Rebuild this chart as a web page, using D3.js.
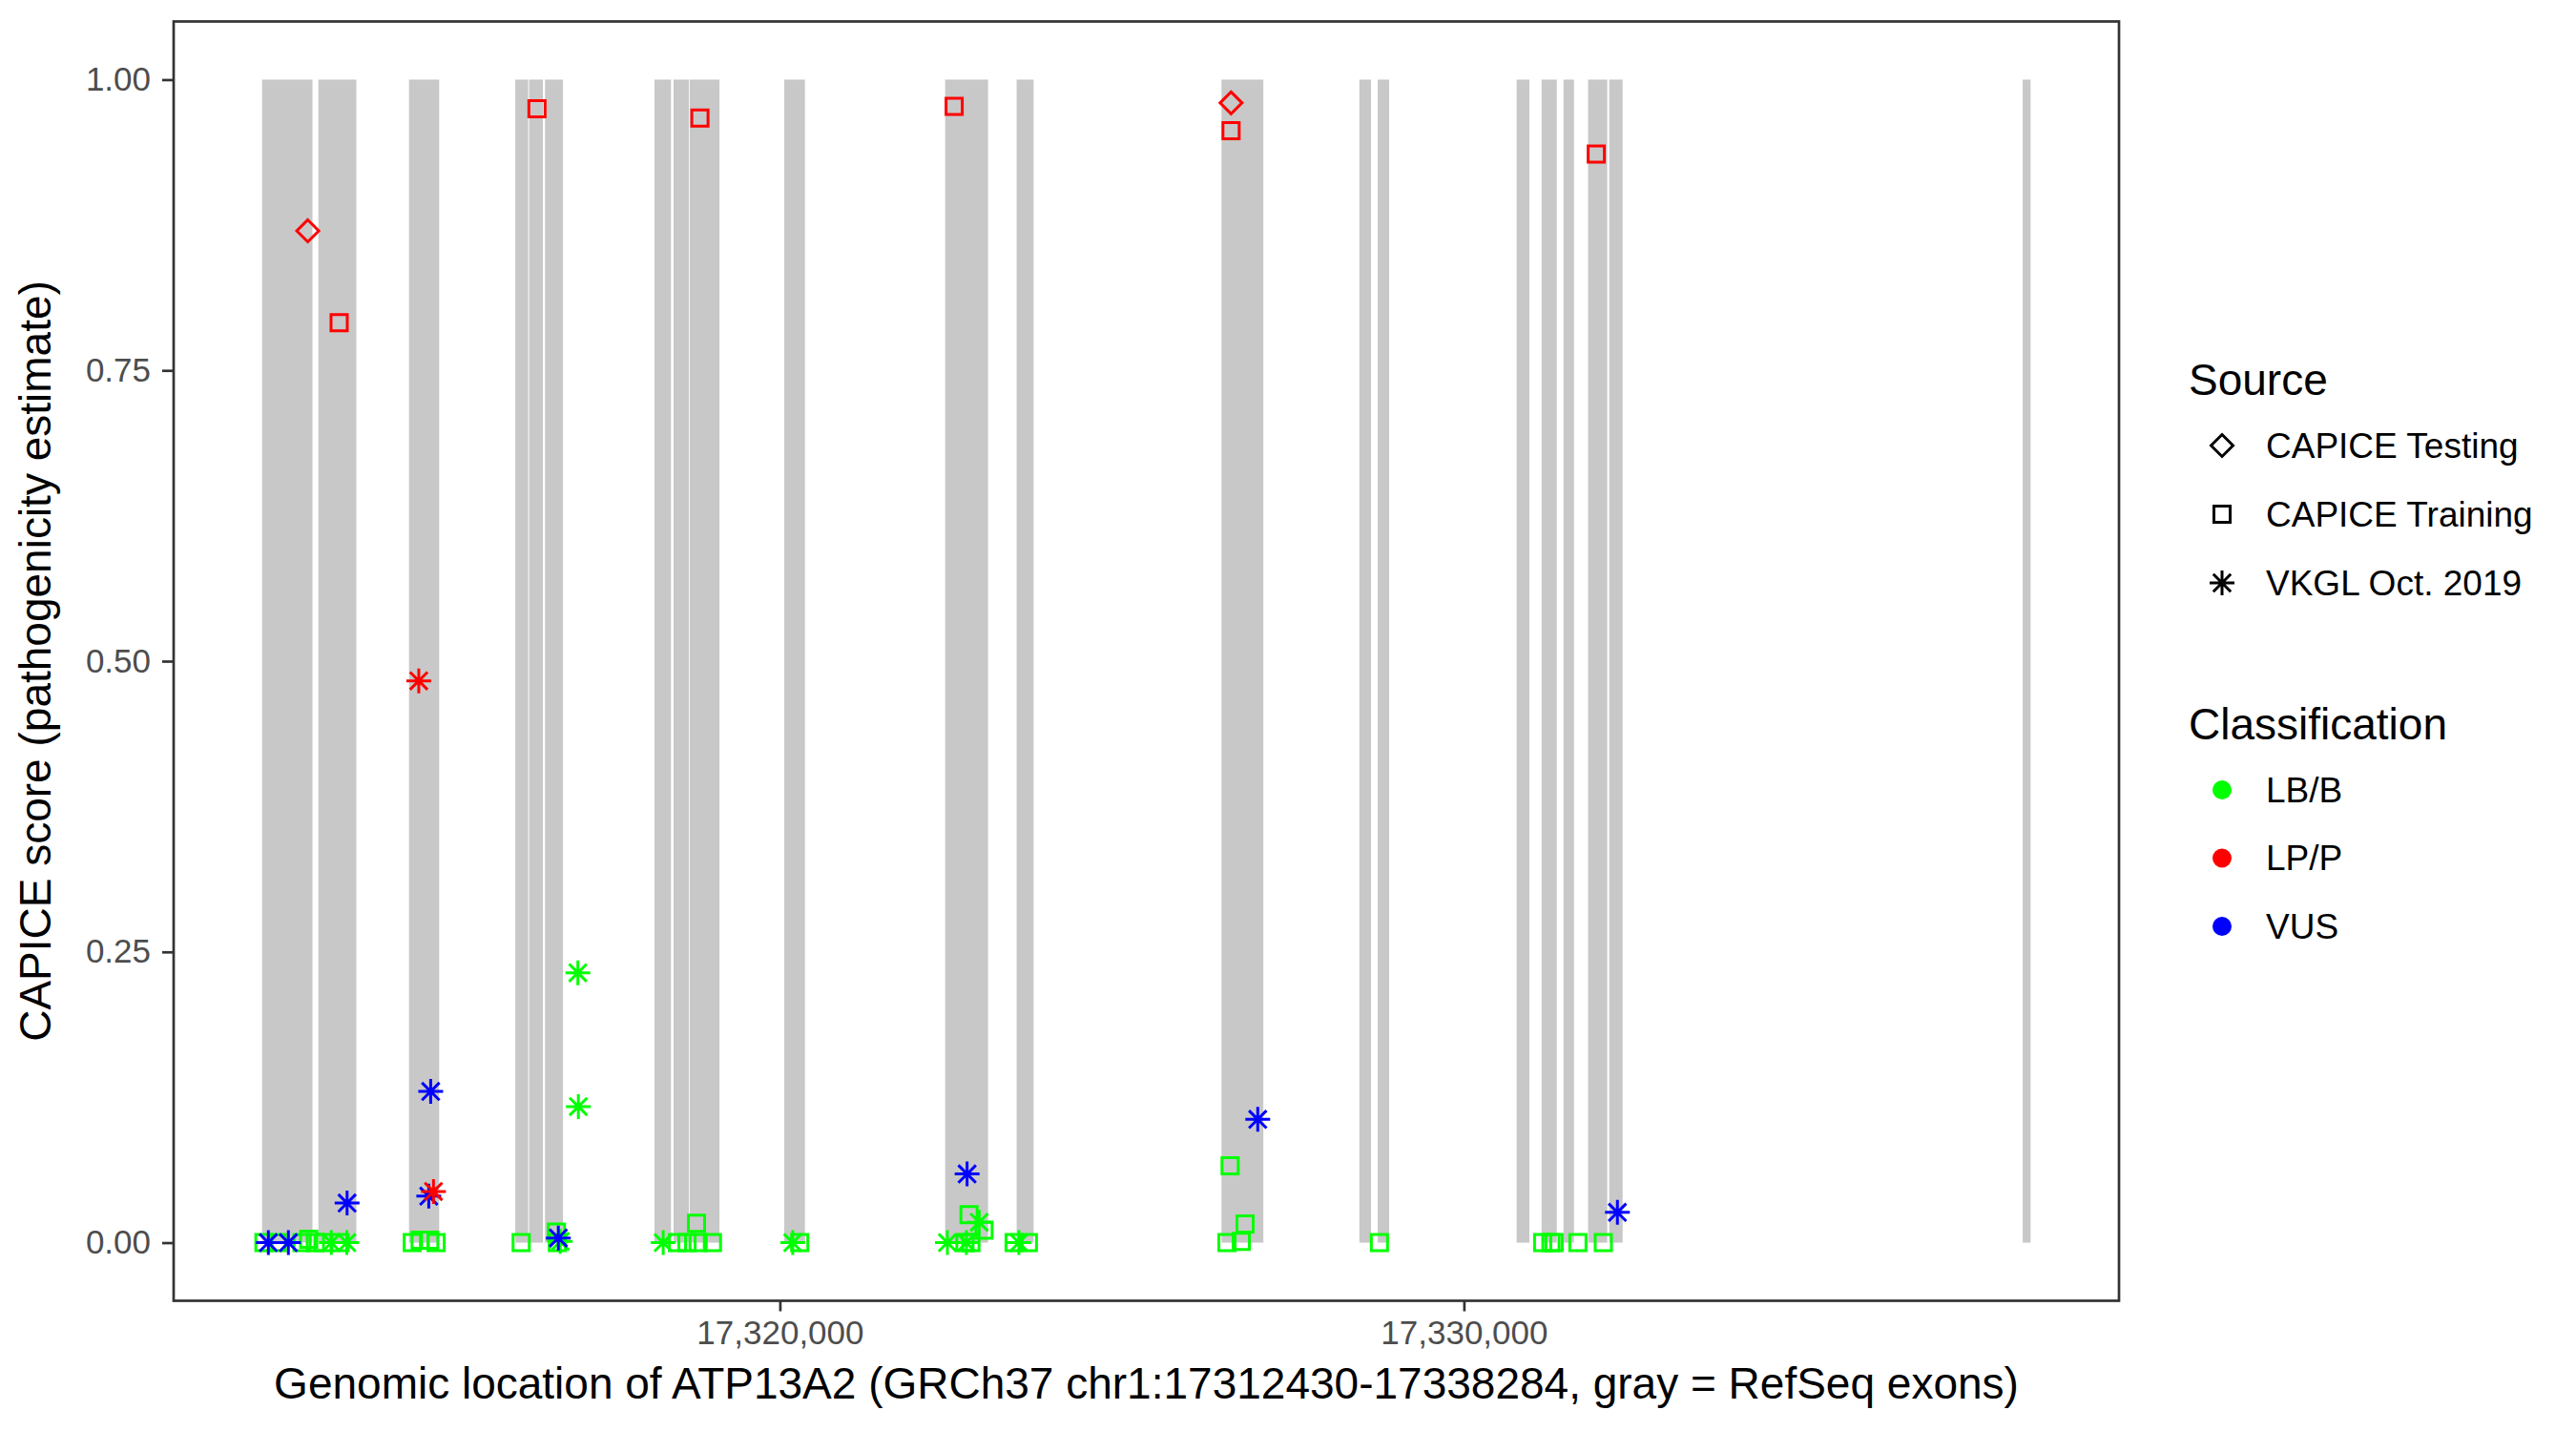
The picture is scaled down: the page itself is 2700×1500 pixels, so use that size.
<!DOCTYPE html>
<html>
<head>
<meta charset="utf-8">
<script src="https://cdn.jsdelivr.net/npm/d3@7"></script>
<style>
  body { margin: 0; background: #fff; }
  text { font-family: 'Liberation Sans', Arial, Helvetica, sans-serif; }
</style>
</head>
<body>
<div id="chart"></div>
<script>
// gene window and RefSeq exons (GRCh37 chr1)
const geneStart = 17312430
const geneEnd = 17338284
const exonStarts = [17312430, 17313253, 17314578, 17316132, 17316334, 17316567, 17318166, 17318446, 17318682,
  17320063, 17322416, 17323461, 17326456, 17328472, 17328740, 17330770, 17331135, 17331456, 17331815, 17332124, 17338169]
const exonEnds = [17313167, 17313808, 17315019, 17316320, 17316536, 17316829, 17318408, 17318670, 17319117,
  17320366, 17323043, 17323709, 17327068, 17328641, 17328907, 17330957, 17331358, 17331609, 17332095, 17332320, 17338284]

const xTicks = [17320000, 17330000]
const yTicks = [0, 0.25, 0.5, 0.75, 1]

const classes = ['LB/B', 'LP/P', 'VUS']
const classColors = ['#00ff00', '#ff0000', '#0000ff']
const sources = ['CAPICE Testing', 'CAPICE Training', 'VKGL Oct. 2019']

// [position, score, classification]
const capiceTraining = [
  [17312457, 0, 'LB/B'], [17312652, 0, 'LB/B'], [17313014, 0, 'LB/B'], [17313112, 0.003, 'LB/B'],
  [17313209, 0, 'LB/B'], [17313321, 0, 'LB/B'], [17313571, 0, 'LB/B'], [17314626, 0, 'LB/B'],
  [17314741, 0.002, 'LB/B'], [17314881, 0.002, 'LB/B'], [17314974, 0, 'LB/B'], [17316218, 0, 'LB/B'],
  [17316733, 0.009, 'LB/B'], [17316747, 0, 'LB/B'], [17318503, 0, 'LB/B'], [17318642, 0, 'LB/B'],
  [17318781, 0.0166, 'LB/B'], [17318805, 0, 'LB/B'], [17319014, 0, 'LB/B'], [17320290, 0, 'LB/B'],
  [17322705, 0, 'LB/B'], [17322765, 0.024, 'LB/B'], [17322793, 0, 'LB/B'], [17322984, 0.0107, 'LB/B'],
  [17323424, 0, 'LB/B'], [17323633, 0, 'LB/B'], [17326536, 0, 'LB/B'], [17326582, 0.066, 'LB/B'],
  [17326745, 0.001, 'LB/B'], [17326801, 0.016, 'LB/B'], [17328765, 0, 'LB/B'], [17331151, 0, 'LB/B'],
  [17331272, 0, 'LB/B'], [17331318, 0, 'LB/B'], [17331666, 0, 'LB/B'], [17332038, 0, 'LB/B'],
  [17313557, 0.791, 'LP/P'], [17316449, 0.975, 'LP/P'], [17318831, 0.967, 'LP/P'], [17322548, 0.977, 'LP/P'],
  [17326596, 0.956, 'LP/P'], [17331935, 0.936, 'LP/P']
]
const capiceTesting = [
  [17313098, 0.870, 'LP/P'], [17326596, 0.980, 'LP/P']
]
const vkgl = [
  [17313442, 0, 'LB/B'], [17313669, 0, 'LB/B'], [17316789, 0.001, 'LB/B'], [17317047, 0.232, 'LB/B'],
  [17317054, 0.117, 'LB/B'], [17318294, 0, 'LB/B'], [17320188, 0, 'LB/B'], [17322449, 0, 'LB/B'],
  [17322727, 0, 'LB/B'], [17322914, 0.0175, 'LB/B'], [17323494, 0, 'LB/B'],
  [17312522, 0, 'VUS'], [17312815, 0, 'VUS'], [17313673, 0.034, 'VUS'], [17314867, 0.040, 'VUS'],
  [17314895, 0.130, 'VUS'], [17316761, 0.004, 'VUS'], [17322737, 0.059, 'VUS'], [17326986, 0.106, 'VUS'],
  [17332244, 0.026, 'VUS'],
  [17314721, 0.483, 'LP/P'], [17314936, 0.044, 'LP/P']
]

const W = 2700, H = 1500
const panel = {l: 182, r: 2221, t: 22.5, b: 1363.5}
const tickFont = 35, legendFont = 37, bigFont = 46
const sw = 3

const svg = d3.select('#chart').append('svg')
  .attr('width', W)
  .attr('height', H)
svg.append('rect').attr('width', W).attr('height', H).attr('fill', '#fff')

const span = geneEnd - geneStart
const x = d3.scaleLinear()
  .domain([geneStart - 0.05 * span, geneEnd + 0.05 * span])
  .range([panel.l, panel.r])
const y = d3.scaleLinear()
  .domain([-0.05, 1.05])
  .range([panel.b, panel.t])
const color = d3.scaleOrdinal().domain(classes).range(classColors)

// shapes
function diamond(r) { return `M0,${-r}L${r},0L0,${r}L${-r},0Z` }
function square(s) { return `M${-s/2},${-s/2}H${s/2}V${s/2}H${-s/2}Z` }
function asterisk(r) {
  const d = r * Math.SQRT1_2
  return `M0,${-r}V${r}M${-r},0H${r}M${-d},${-d}L${d},${d}M${-d},${d}L${d},${-d}`
}
const shapePath = {
  'CAPICE Testing': diamond(11.5),
  'CAPICE Training': square(17),
  'VKGL Oct. 2019': asterisk(13)
}

// exons
svg.append('g').selectAll('rect')
  .data(d3.zip(exonStarts, exonEnds))
  .enter().append('rect')
  .attr('x', d => x(d[0]))
  .attr('width', d => x(d[1]) - x(d[0]))
  .attr('y', y(1))
  .attr('height', y(0) - y(1))
  .attr('fill', '#c8c8c8')

// points
const layers = [[capiceTraining, sources[1]], [capiceTesting, sources[0]], [vkgl, sources[2]]]
layers.forEach(([rows, src]) => {
  svg.append('g').selectAll('path')
    .data(rows)
    .enter().append('path')
    .attr('transform', d => `translate(${x(d[0])},${y(d[1])})`)
    .attr('d', shapePath[src])
    .attr('fill', 'none')
    .attr('stroke', d => color(d[2]))
    .attr('stroke-width', sw)
})

// axes
const xAxis = svg.append('g')
  .attr('transform', `translate(0,${panel.b})`)
  .call(d3.axisBottom(x).tickValues(xTicks).tickFormat(d3.format(',')).tickSize(11).tickPadding(10))
const yAxis = svg.append('g')
  .attr('transform', `translate(${panel.l},0)`)
  .call(d3.axisLeft(y).tickValues(yTicks).tickFormat(d3.format('.2f')).tickSize(12).tickPadding(12))
;[xAxis, yAxis].forEach(a => {
  a.select('.domain').remove()
  a.selectAll('line').attr('stroke', '#333').attr('stroke-width', 2.7)
  a.selectAll('text').attr('fill', '#4d4d4d').style('font-size', tickFont + 'px')
    .style('font-family', "'Liberation Sans', Arial, sans-serif")
})

// panel border
svg.append('rect')
  .attr('x', panel.l).attr('y', panel.t)
  .attr('width', panel.r - panel.l).attr('height', panel.b - panel.t)
  .attr('fill', 'none').attr('stroke', '#333').attr('stroke-width', 2.7)

// axis titles
svg.append('text')
  .attr('x', (panel.l + panel.r) / 2)
  .attr('y', 1466)
  .attr('text-anchor', 'middle')
  .style('font-size', bigFont + 'px')
  .text('Genomic location of ATP13A2 (GRCh37 chr1:17312430-17338284, gray = RefSeq exons)')
svg.append('text')
  .attr('transform', `translate(53,${(panel.t + panel.b) / 2}) rotate(-90)`)
  .attr('text-anchor', 'middle')
  .style('font-size', bigFont + 'px')
  .text('CAPICE score (pathogenicity estimate)')

// legends
const lg = svg.append('g')
lg.append('text').attr('x', 2294).attr('y', 414).style('font-size', bigFont + 'px').text('Source')
sources.forEach((s, i) => {
  const cy = 467 + i * 72
  lg.append('path')
    .attr('transform', `translate(2329,${cy})`)
    .attr('d', shapePath[s])
    .attr('fill', 'none').attr('stroke', '#000').attr('stroke-width', sw)
  lg.append('text').attr('x', 2375).attr('y', cy).attr('dy', '0.35em')
    .style('font-size', legendFont + 'px').text(s)
})
lg.append('text').attr('x', 2294).attr('y', 775).style('font-size', bigFont + 'px').text('Classification')
classes.forEach((c, i) => {
  const cy = 828 + i * 71.5
  lg.append('circle').attr('cx', 2329).attr('cy', cy).attr('r', 10).attr('fill', color(c))
  lg.append('text').attr('x', 2375).attr('y', cy).attr('dy', '0.35em')
    .style('font-size', legendFont + 'px').text(c)
})
</script>
</body>
</html>
